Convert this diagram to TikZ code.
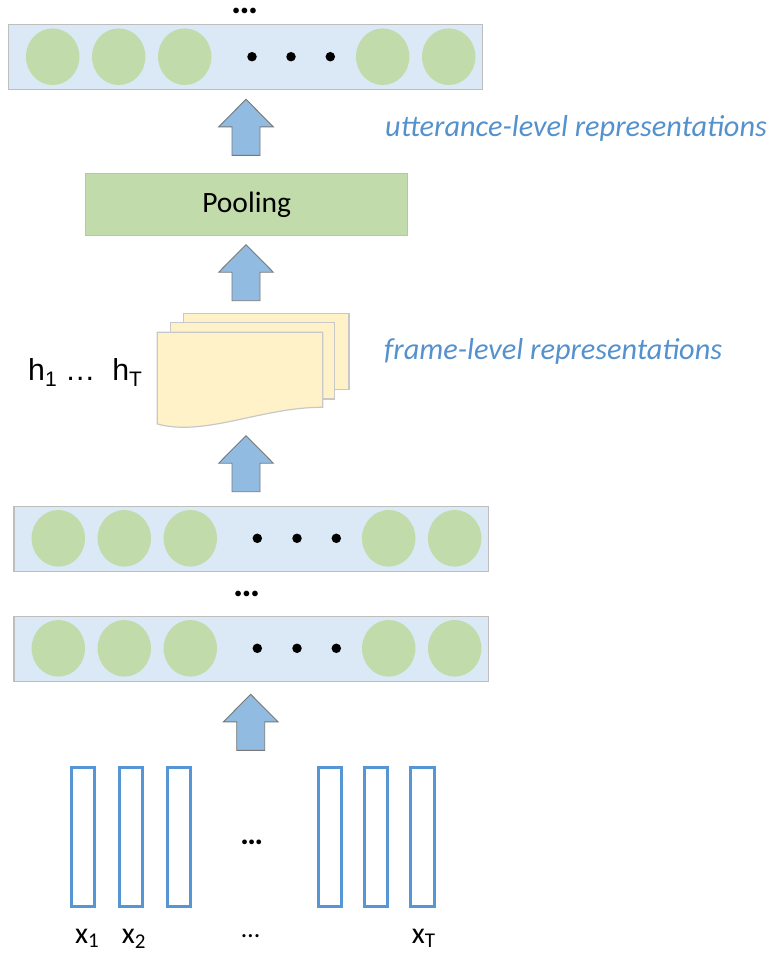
\documentclass[tikz,border=0pt]{standalone}
\usepackage{fontspec}
\setmainfont{Carlito}
\newfontfamily\arialf{Liberation Sans}
\usetikzlibrary{shapes.geometric}
\definecolor{layerfill}{RGB}{219,232,246}
\definecolor{layerdraw}{RGB}{190,190,190}
\definecolor{cellfill}{RGB}{193,220,170}
\definecolor{arrfill}{RGB}{146,187,226}
\definecolor{arrdraw}{RGB}{120,120,120}
\definecolor{docfill}{RGB}{255,241,200}
\definecolor{docdraw}{RGB}{200,200,200}
\definecolor{txtblue}{RGB}{84,145,205}
\definecolor{inblue}{RGB}{86,150,212}
\newcommand\hsubx[1]{\raisebox{-6.5pt}{\fontsize{21}{23}\selectfont #1}}
\tikzset{
  layerbox/.style={draw=layerdraw, fill=layerfill, line width=1.3pt},
  cell/.style={ellipse, fill=cellfill, draw=none, minimum width=53.4pt, minimum height=56.6pt, inner sep=0pt},
  bigdot/.style={circle, fill=black, draw=none, minimum size=9.5pt, inner sep=0pt},
  arrbox/.style={draw=arrdraw, fill=arrfill, line width=0.9pt, line join=miter},
  blockarr/.pic={\path[arrbox] (-14,0) -- (-14,-28.5) -- (-27.3,-28.5) -- (0,-56) -- (27.3,-28.5) -- (14,-28.5) -- (14,0) -- cycle;},
  docsheet/.style={draw=docdraw, fill=docfill, line width=1.2pt},
  inrect/.style={draw=inblue, line width=2.8pt},
  bluelabel/.style={text=txtblue, font=\fontsize{30.3}{32}\selectfont\itshape, anchor=base west, inner sep=0pt},
  xlabel/.style={font=\fontsize{30}{32}\selectfont, anchor=base west, inner sep=0pt},
  ell/.style={font=\fontsize{38}{40}\selectfont\bfseries, inner sep=0pt},
}
\begin{document}
\begin{tikzpicture}[x=1pt, y=-1pt]
\useasboundingbox (0,0) rectangle (769,956);

% top layer
\node[ell] (topdots) at (245,11) {…};
\path[layerbox] (8.3,24.3) rectangle (482.3,89.3);
\node[cell] (t1) at (52.7,56.7) {};
\node[cell] (t2) at (118.7,56.7) {};
\node[cell] (t3) at (184.7,56.7) {};
\node[bigdot] (td1) at (252,56.7) {};
\node[bigdot] (td2) at (291,56.7) {};
\node[bigdot] (td3) at (330.3,56.7) {};
\node[cell] (t4) at (382.7,56.7) {};
\node[cell] (t5) at (448.7,56.7) {};

% arrow 1
\coordinate (a1) at (246,155.3);
\pic at (a1) {blockarr};
\node[bluelabel] (utt) at (385,136.7) {utterance-level representations};

% pooling
\node[draw=layerdraw, fill=cellfill, line width=1.2pt, minimum width=322pt, minimum height=62pt, inner sep=0pt,
      font=\fontsize{29.5}{31}\selectfont] (pool) at (246.6,204.3) {Pooling};

% arrow 2
\coordinate (a2) at (246,300.7);
\pic at (a2) {blockarr};

% document stack
\path[docsheet] (183.3,313.3) rectangle (349,389.3);
\path[docsheet] (170.7,322.7) rectangle (334.3,399);
\path[docsheet] (157.3,332.3) -- (322.7,332.3) -- (322.7,407.3)
   .. controls (262,407) and (205,437) .. (157.3,424) -- cycle;
\node[font=\arialf\fontsize{30.3}{32}\selectfont, anchor=base west, inner sep=0pt] (hlab) at (28,380)
   {h\hsubx{1} …\ \ h\hsubx{T}};
\node[bluelabel] (frm) at (384,359.3) {frame-level representations};

% arrow 3
\coordinate (a3) at (246,491.7);
\pic at (a3) {blockarr};

% layer 2
\path[layerbox] (14,506.7) rectangle (488.7,571.7);
\foreach \n/\x in {1/58.3,2/124.3,3/190.3,4/388.7,5/454.7}{\node[cell] (m\n) at (\x,538.3) {};}
\foreach \n/\x in {1/257.3,2/297,3/336.3}{\node[bigdot] (md\n) at (\x,538.3) {};}

\node[ell] (middots) at (247.3,593.5) {…};

% layer 3
\path[layerbox] (14,616.7) rectangle (488.7,681.7);
\foreach \n/\x in {1/58.3,2/124.3,3/190.3,4/388.7,5/454.7}{\node[cell] (b\n) at (\x,648.3) {};}
\foreach \n/\x in {1/257.3,2/297,3/336.3}{\node[bigdot] (bd\n) at (\x,648.3) {};}

% arrow 4
\coordinate (a4) at (250.7,750.3);
\pic at (a4) {blockarr};

% inputs
\foreach \n/\xa/\xb in {1/70/96,2/118/144,3/166/192,4/316.7/342.7,5/362.7/388.7,6/409.3/436}{
  \path[inrect] (\xa+1.4,767.4) rectangle (\xb-1.4,906.3);
}
\node[font=\fontsize{32}{34}\selectfont\bfseries, inner sep=0pt] (inell) at (251.7,842.5) {…};
\node[xlabel] (x1) at (75,943) {x\textsubscript{1}};
\node[xlabel] (x2) at (121.7,943) {x\textsubscript{2}};
\node[font=\fontsize{26}{28}\selectfont, inner sep=0pt] (botell) at (250.7,936) {…};
\node[xlabel] (xT) at (411.7,943) {x\textsubscript{T}};
\end{tikzpicture}
\end{document}
